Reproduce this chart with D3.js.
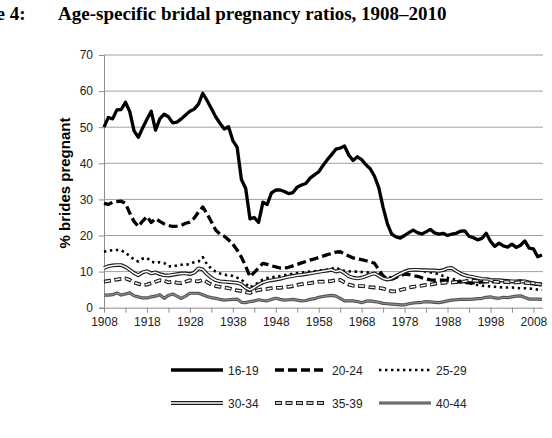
<!DOCTYPE html>
<html>
<head>
<meta charset="utf-8">
<script src="https://cdn.jsdelivr.net/npm/d3@7/dist/d3.min.js"></script>
<style>
  body { margin: 0; background: #fff; }
  text { font-family: "Liberation Sans", Arial, sans-serif; }
</style>
</head>
<body>
<div id="chart"></div>
<script>
// Sets dimensions of SVG arena
var width = 552;
var height = 438;

// Categories (one per year, 1908-2010)
var years = d3.range(1908, 2011);
var labelYears = [1908, 1918, 1928, 1938, 1948, 1958, 1968, 1978, 1988, 1998, 2008];
var yTicks = [0, 10, 20, 30, 40, 50, 60, 70];
var seriesNames = ["16-19", "20-24", "25-29", "30-34", "35-39", "40-44"];

// % brides pregnant
var age16to19 = [
  50.0, 52.7, 52.3, 54.8, 54.9, 56.9, 54.3, 49.0, 47.2, 49.8,
  52.2, 54.4, 49.2, 52.3, 53.6, 52.9, 51.2, 51.4, 52.3, 53.4,
  54.4, 55.0, 56.4, 59.4, 57.4, 55.2, 52.9, 51.1, 49.5, 50.1,
  46.3, 44.5, 35.5, 33.0, 24.6, 25.0, 23.6, 29.2, 28.6, 31.8,
  32.6, 32.6, 32.2, 31.6, 31.9, 33.4, 34.0, 34.4, 35.9, 36.8,
  37.6, 39.4, 41.0, 42.4, 43.9, 44.2, 44.8, 42.3, 40.8, 41.8,
  41.0, 39.6, 38.5, 36.4, 33.2, 27.8, 23.2, 20.4, 19.6, 19.3,
  20.0, 20.8, 21.5, 20.8, 20.4, 21.0, 21.7, 20.7, 20.4, 20.6,
  20.0, 20.4, 20.6, 21.2, 21.3, 19.8, 19.4, 18.8, 19.2, 20.6,
  18.4, 17.0, 17.9, 17.1, 16.8, 17.6, 16.7, 17.3, 18.5, 16.5,
  16.3, 14.1, 14.6
];
var age20to24 = [
  28.9, 28.6, 29.2, 29.4, 29.5, 28.9, 26.2, 23.9, 22.5, 24.0,
  25.3, 23.6, 24.7, 23.9, 23.2, 22.8, 22.5, 22.6, 22.8, 23.4,
  23.7, 24.8, 26.5, 27.9, 26.0, 23.8, 21.5, 20.4, 19.8, 18.8,
  17.6, 16.0, 14.0, 11.5, 8.6, 9.8, 11.0, 12.3, 12.0, 11.6,
  11.3, 11.0, 10.9, 11.2, 11.6, 12.0, 12.4, 12.8, 13.2, 13.5,
  13.9, 14.3, 14.7, 15.0, 15.4, 15.5, 14.9, 14.3, 13.8, 13.5,
  13.3, 13.0, 12.7, 12.3, 10.5, 8.8, 7.9, 7.9, 8.4, 8.9,
  9.3, 9.2, 8.9, 8.7, 8.3, 8.0, 7.7, 7.6, 7.6, 7.6,
  7.5, 7.4, 7.2, 7.1, 7.0, 6.9, 6.9, 7.0, 7.1, 7.2,
  7.2, 7.2, 7.2, 7.2, 7.2, 7.2, 7.3, 7.4, 7.2, 6.8,
  6.6, 6.5, 6.4
];
var age25to29 = [
  15.5, 15.8, 15.9, 16.0, 15.9, 15.2, 14.3, 13.3, 12.8, 13.6,
  13.8, 12.8, 12.4, 12.6, 12.4, 11.5, 11.4, 11.7, 11.9, 11.9,
  12.1, 12.6, 12.8, 14.0, 12.0, 10.8, 10.0, 9.5, 9.1, 9.0,
  8.8, 8.3, 7.8, 6.6, 5.6, 6.3, 7.0, 7.8, 8.2, 8.4,
  8.6, 8.8, 9.0, 9.2, 9.4, 9.6, 9.7, 9.9, 10.0, 10.1,
  10.3, 10.4, 10.6, 10.8, 11.2, 10.5, 10.2, 10.1, 10.0, 10.0,
  9.9, 9.8, 9.7, 9.4, 9.2, 8.5, 8.1, 8.5, 8.9, 9.4,
  9.9, 10.3, 10.5, 10.4, 10.2, 10.0, 9.8, 9.6, 9.2, 8.8,
  8.3, 8.0, 7.7, 7.4, 7.1, 6.8, 6.5, 6.3, 6.1, 6.0,
  5.9, 5.8, 5.7, 5.6, 5.6, 5.6, 5.5, 5.4, 5.4, 5.3,
  5.2, 5.0, 4.9
];
var age30to34 = [
  11.0, 11.5, 11.7, 11.8, 11.8, 11.3, 10.5, 9.6, 9.0, 9.8,
  10.1, 9.5, 9.8, 9.3, 9.0, 8.9, 9.1, 9.3, 9.5, 9.5,
  9.3, 9.7, 10.9, 10.6, 9.3, 8.3, 7.6, 7.3, 7.2, 7.1,
  7.0, 6.9, 6.5, 5.5, 4.9, 5.6, 6.4, 7.0, 7.4, 7.6,
  7.8, 8.0, 8.3, 8.6, 8.8, 9.0, 9.1, 9.3, 9.5, 9.7,
  9.9, 10.1, 10.3, 10.5, 10.0, 10.3, 9.6, 8.7, 8.3, 8.1,
  8.3, 8.7, 9.2, 9.5, 8.8, 8.1, 7.8, 8.1, 8.8, 9.4,
  10.0, 10.4, 10.5, 10.5, 10.4, 10.4, 10.3, 10.3, 10.2, 10.4,
  10.9, 11.0, 10.2, 9.5, 9.0, 8.7, 8.5, 8.2, 8.0, 7.9,
  7.7, 7.6, 7.6, 7.5, 7.4, 7.3, 7.3, 7.2, 7.3, 7.0,
  6.8, 6.5, 6.3
];
var age35to39 = [
  7.2, 7.4, 7.6, 7.8, 8.0, 8.1, 7.7, 7.0, 6.6, 6.3,
  6.4, 6.8, 7.2, 7.6, 7.5, 7.0, 7.2, 6.9, 6.8, 7.2,
  7.6, 7.4, 7.3, 7.7, 7.1, 6.4, 6.0, 5.8, 5.6, 5.4,
  5.1, 4.8, 4.6, 4.3, 4.1, 4.6, 4.9, 5.1, 5.2, 5.4,
  5.5, 5.5, 5.7, 5.8, 6.0, 6.3, 6.5, 6.7, 6.8, 7.0,
  7.2, 7.2, 7.3, 7.4, 7.6, 7.7, 7.0, 6.4, 6.1, 6.0,
  6.0, 5.9, 5.7, 5.6, 5.5, 5.3, 4.9, 4.5, 4.5, 4.9,
  5.2, 5.6, 5.8, 6.0, 6.1, 6.3, 6.4, 6.6, 6.8, 6.9,
  7.0, 7.0, 7.1, 7.2, 7.3, 7.5, 7.5, 7.4, 7.3, 7.3,
  7.2, 7.2, 7.1, 7.1, 7.1, 7.0, 7.0, 7.1, 6.9, 6.8,
  6.7, 6.6, 6.5
];
var age40to44 = [
  3.5, 3.5, 3.6, 4.1, 3.5, 3.8, 4.1, 3.3, 3.0, 2.7,
  2.7, 3.0, 3.2, 3.6, 2.6, 3.4, 3.8, 3.2, 2.6, 3.2,
  4.0, 4.0, 4.0, 3.6, 3.1, 2.8, 2.6, 2.3, 2.1, 2.2,
  2.3, 2.4, 1.5, 1.4, 1.7, 1.9, 2.2, 2.0, 1.9, 2.3,
  2.6, 2.3, 2.1, 2.2, 2.3, 2.1, 1.9, 2.0, 2.3, 2.5,
  2.9, 3.1, 3.3, 3.4, 3.2, 2.6, 1.9, 1.9, 1.9, 1.7,
  1.4, 1.8, 1.9, 1.7, 1.5, 1.2, 1.1, 1.0, 0.9, 0.8,
  0.8, 1.1, 1.3, 1.4, 1.5, 1.7, 1.6, 1.5, 1.4, 1.6,
  1.9, 2.1, 2.2, 2.3, 2.3, 2.3, 2.4, 2.5, 2.6, 2.9,
  3.0, 2.7, 2.6, 2.9, 2.8, 3.0, 3.2, 3.3, 2.8, 2.4,
  2.4, 2.4, 2.3
];

// Line looks: outer stroke, optional inner stroke to make hollow/double lines
var styles = [
  { outer: "#000", ow: 3.3, dash: null },
  { outer: "#000", ow: 3.3, dash: "9,4" },
  { outer: "#000", ow: 2.6, dash: "2.4,3.6" },
  { outer: "#1a1a1a", ow: 3.8, dash: null, inner: "#fff", iw: 1.5 },
  { outer: "#1a1a1a", ow: 3.8, dash: "7,3.5", inner: "#fff", iw: 1.5, idash: "5.2,5.3", ioff: -0.9 },
  { outer: "#505050", ow: 3.2, dash: null, inner: "#8c8c8c", iw: 1.2 }
];

var seriesValues = [age16to19, age20to24, age25to29, age30to34, age35to39, age40to44];

var svg = d3.select("#chart").append("svg")
  .attr("width", width)
  .attr("height", height);

var x = d3.scalePoint().domain(years).range([104, 542]);
var y = d3.scaleLinear().domain([0, 70]).range([307.7, 55]);

// Title (the "Figure" part runs off the left edge, as in the source)
svg.append("text")
  .attr("x", 25.5).attr("y", 20)
  .attr("text-anchor", "end")
  .style("font-family", "'Liberation Serif', 'Times New Roman', serif")
  .style("font-weight", "bold").style("font-size", "19px")
  .text("Figure 4:");
svg.append("text")
  .attr("x", 58).attr("y", 20)
  .style("font-family", "'Liberation Serif', 'Times New Roman', serif")
  .style("font-weight", "bold").style("font-size", "19px")
  .text("Age-specific bridal pregnancy ratios, 1908\u20132010");

// Gridlines
svg.append("g").selectAll("line")
  .data(yTicks.filter(function(d) { return d > 0; }))
  .enter().append("line")
  .attr("x1", 104).attr("x2", 543)
  .attr("y1", function(d) { return y(d); })
  .attr("y2", function(d) { return y(d); })
  .attr("stroke", "#a0a0a0").attr("stroke-width", 1);

// Y axis
var yAxis = svg.append("g")
  .attr("transform", "translate(104,0)")
  .call(d3.axisLeft(y).tickValues(yTicks).tickSize(5).tickPadding(6));
yAxis.select(".domain").attr("stroke", "#8c8c8c");
yAxis.selectAll(".tick line").attr("stroke", "#8c8c8c");
yAxis.selectAll("text").style("font-size", "12px").attr("fill", "#222")
  .style("font-family", "'Liberation Sans', Arial, sans-serif");

// X axis (tick every 5 years, label every 10)
var xAxis = svg.append("g")
  .attr("transform", "translate(0," + y(0) + ")")
  .call(d3.axisBottom(x)
    .tickValues(years.filter(function(d) { return (d - 1908) % 5 === 0; }))
    .tickFormat(function(d) { return labelYears.indexOf(d) >= 0 ? d : ""; })
    .tickSize(5).tickPadding(5).tickSizeOuter(0));
xAxis.select(".domain").attr("d", "M104,0.5H543").attr("stroke", "#8c8c8c");
xAxis.selectAll(".tick line").attr("stroke", "#8c8c8c");
xAxis.selectAll("text").style("font-size", "12px").attr("fill", "#222")
  .style("font-family", "'Liberation Sans', Arial, sans-serif");

// Y title
svg.append("text")
  .attr("transform", "translate(70,183) rotate(-90)")
  .attr("text-anchor", "middle")
  .style("font-weight", "bold").style("font-size", "15px")
  .text("% brides pregnant");

// Series lines
var line = d3.line()
  .x(function(d, i) { return x(years[i]); })
  .y(function(d) { return y(d); });

var plot = svg.append("g").attr("fill", "none");
seriesValues.forEach(function(vals, k) {
  var st = styles[k];
  plot.append("path")
    .attr("d", line(vals))
    .attr("stroke", st.outer).attr("stroke-width", st.ow)
    .attr("stroke-dasharray", st.dash)
    .attr("stroke-linejoin", "round");
  if (st.inner) {
    plot.append("path")
      .attr("d", line(vals))
      .attr("stroke", st.inner).attr("stroke-width", st.iw)
      .attr("stroke-dasharray", st.idash || null)
      .attr("stroke-dashoffset", st.ioff || null)
      .attr("stroke-linejoin", "round");
  }
});

// Legend: two rows of three
var legendX = [171, 275, 379];
var legendY = [370, 403];
seriesNames.forEach(function(name, k) {
  var st = styles[k];
  var lx = legendX[k % 3], ly = legendY[Math.floor(k / 3)];
  var g = svg.append("g").attr("fill", "none");
  g.append("line")
    .attr("x1", lx).attr("x2", lx + 52).attr("y1", ly).attr("y2", ly)
    .attr("stroke", st.outer).attr("stroke-width", st.ow)
    .attr("stroke-dasharray", st.dash);
  if (st.inner) {
    g.append("line")
      .attr("x1", lx).attr("x2", lx + 52).attr("y1", ly).attr("y2", ly)
      .attr("stroke", st.inner).attr("stroke-width", st.iw)
      .attr("stroke-dasharray", st.idash || null)
      .attr("stroke-dashoffset", st.ioff || null);
  }
  svg.append("text")
    .attr("x", lx + 57).attr("y", ly + 4.5)
    .style("font-size", "12px").attr("fill", "#222")
    .text(name);
});
</script>
</body>
</html>
